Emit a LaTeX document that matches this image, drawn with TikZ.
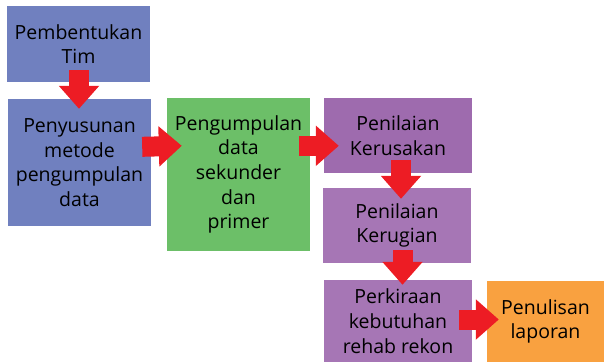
\documentclass[tikz,border=0pt]{standalone}
\usepackage{fontspec}
\setmainfont{Open Sans}
\usetikzlibrary{arrows.meta,calc}
\definecolor{cblue}{RGB}{112,128,191}
\definecolor{cgreen}{RGB}{108,191,104}
\definecolor{cpurpleA}{RGB}{158,107,174}
\definecolor{cpurpleB}{RGB}{166,118,181}
\definecolor{corange}{RGB}{249,161,64}
\definecolor{cred}{RGB}{237,28,36}
\tikzset{
  boxstyle/.style={rectangle, inner sep=0pt, align=center, text=black,
    font=\fontsize{19.5}{24.7}\selectfont},
  blockarrow/.style={cred, line width=20pt, line cap=butt,
    -{Triangle[width=39pt,length=23pt]}},
}
\begin{document}
\begin{tikzpicture}[x=1pt,y=-1pt]
\useasboundingbox (0,0) rectangle (604,362);
\node[boxstyle, fill=cblue, minimum width=143pt, minimum height=76pt] (b1) at (78.5,44) {Pembentukan\\Tim};
\node[boxstyle, fill=cblue, minimum width=143pt, minimum height=127pt] (b2) at (79.5,162.5) {Penyusunan\\metode\\pengumpulan\\data};
\node[boxstyle, fill=cgreen, minimum width=143pt, minimum height=153pt] (b3) at (238.5,174.5) {Pengumpulan\\data\\sekunder\\dan\\primer};
\node[boxstyle, fill=cpurpleA, minimum width=148pt, minimum height=75pt] (b4) at (398,135.5) {Penilaian\\Kerusakan};
\node[boxstyle, fill=cpurpleB, minimum width=148pt, minimum height=75pt] (b5) at (397,225.5) {Penilaian\\Kerugian};
\node[boxstyle, fill=cpurpleB, minimum width=148pt, minimum height=82pt] (b6) at (398,321) {Perkiraan\\kebutuhan\\rehab rekon};
\node[boxstyle, fill=corange, minimum width=117pt, minimum height=81pt] (b7) at (545.5,321.5) {Penulisan\\laporan};
\draw[blockarrow] ($(b1.south)+(0.5,-12)$) -- ($(b2.north)+(-0.5,10)$);
\draw[blockarrow] ($(b2.north east)+(-9,48)$) -- ($(b3.north west)+(15,48)$);
\draw[blockarrow] ($(b3.north east)+(-11,48)$) -- ($(b4.north west)+(15,48)$);
\draw[blockarrow] ($(b4.south)+(3,-13)$) -- ($(b5.north)+(4,11)$);
\draw[blockarrow] ($(b5.south)+(5.5,-13)$) -- ($(b6.north)+(4.5,5)$);
\draw[blockarrow] ($(b6.east)+(-13,-1.5)$) -- ($(b7.west)+(12,-2)$);
\end{tikzpicture}
\end{document}
